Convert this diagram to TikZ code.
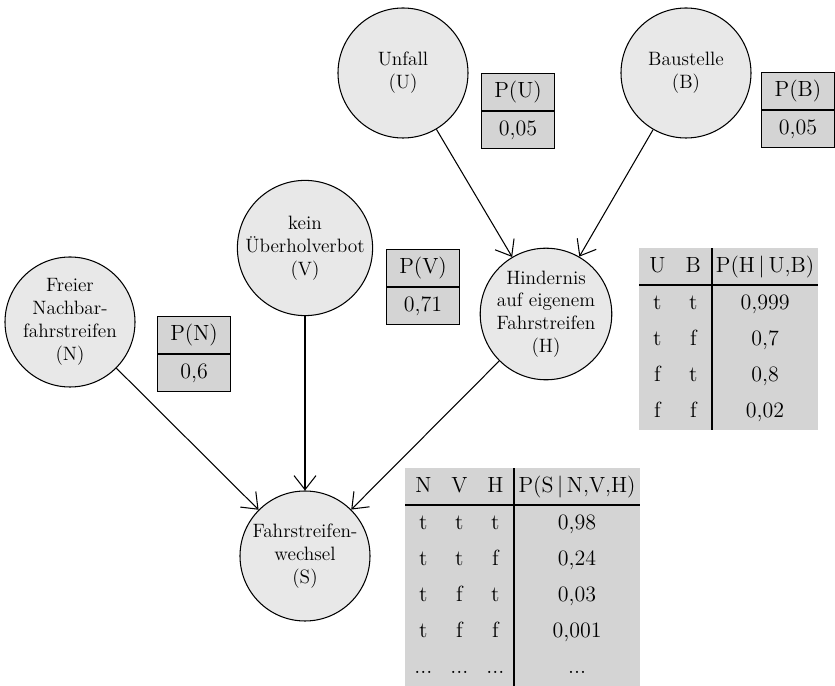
\documentclass[tikz,border=0pt]{standalone}
\usepackage{array}
\usepackage{xcolor}
\usepackage{tikz}
\usetikzlibrary{positioning,arrows.meta}

\definecolor{knotgrau}{gray}{0.91}
\definecolor{tabgrau}{gray}{0.83}

\setlength{\tabcolsep}{0pt}
\setlength{\arrayrulewidth}{0.7pt}
\newcolumntype{C}[1]{>{\centering\arraybackslash\rule[-7pt]{0pt}{20.5pt}}p{#1}}

\begin{document}
\begin{tikzpicture}[
    knoten/.style={circle, draw, line width=0.6pt, fill=knotgrau, minimum size=2.6cm, inner sep=0pt, align=center, font=\fontsize{11}{13}\selectfont},
    pbox/.style={rectangle, draw, line width=0.6pt, fill=tabgrau, minimum width=1.46cm, minimum height=0.74cm, inner sep=0pt, font=\fontsize{12.5}{15}\selectfont},
    cpt/.style={rectangle, fill=tabgrau, inner sep=0pt, anchor=north west, font=\fontsize{12.5}{15}\selectfont},
    arrow/.style={-{Straight Barb[length=2.8mm, width=4.4mm]}, line width=0.6pt},
]
\useasboundingbox (0,0) rectangle (16.7,-13.72);

% Knoten des Netzes
\node[knoten] (U) at (8.06,-1.46) {Unfall\\(U)};
\node[knoten] (B) at (13.72,-1.46) {Baustelle\\(B)};
\node[knoten] (N) at (1.40,-6.44) {Freier\\Nachbar-\\fahrstreifen\\(N)};
\node[knoten] (V) at (6.10,-4.96) {kein\\Überholverbot\\(V)};
\node[knoten] (H) at (10.92,-6.28) {Hindernis\\auf eigenem\\Fahrstreifen\\(H)};
\node[knoten] (S) at (6.10,-11.12) {Fahrstreifen-\\wechsel\\(S)};

% a-priori Wahrscheinlichkeiten
\node[pbox, anchor=north west] (pU) at (9.62,-1.46) {P(U)};
\node[pbox, below=0pt of pU] (pUwert) {0,05};
\node[pbox, anchor=north west] (pB) at (15.22,-1.44) {P(B)};
\node[pbox, below=0pt of pB] (pBwert) {0,05};
\node[pbox, anchor=north west] (pN) at (3.14,-6.32) {P(N)};
\node[pbox, below=0pt of pN] (pNwert) {0,6};
\node[pbox, anchor=north west] (pV) at (7.72,-4.98) {P(V)};
\node[pbox, below=0pt of pV] (pVwert) {0,71};

% bedingte Tabellen
\node[cpt] (cptH) at (12.78,-4.96) {%
    \begin{tabular}{C{0.72cm}C{0.72cm}|C{2.1cm}}
    U & B & P(H\,|\,U,B)\\ \hline
    t & t & 0,999\\
    t & f & 0,7\\
    f & t & 0,8\\
    f & f & 0,02
    \end{tabular}};
\node[cpt] (cptS) at (8.10,-9.36) {%
    \begin{tabular}{C{0.72cm}C{0.72cm}C{0.72cm}|C{2.5cm}}
    N & V & H & P(S\,|\,N,V,H)\\ \hline
    t & t & t & 0,98\\
    t & t & f & 0,24\\
    t & f & t & 0,03\\
    t & f & f & 0,001\\
    ... & ... & ... & ...
    \end{tabular}};

\draw[arrow] (U) -- (H);
\draw[arrow] (B) -- (H);
\draw[arrow] (N) -- (S);
\draw[arrow] (V) -- (S);
\draw[arrow] (H) -- (S);
\end{tikzpicture}
\end{document}
